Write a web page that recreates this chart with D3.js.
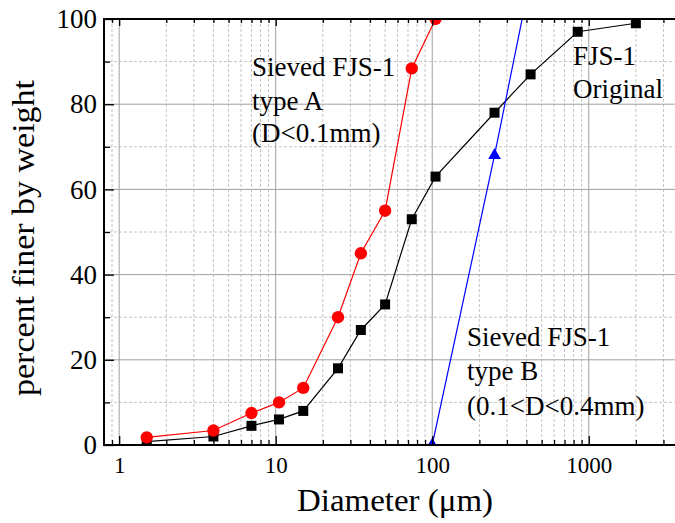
<!DOCTYPE html>
<html lang="en">
<head>
<meta charset="UTF-8">
<title>FJS-1 grain size</title>
<script src="https://cdn.jsdelivr.net/npm/d3@7"></script>
<style>
  body { margin: 0; background: #fff; }
</style>
</head>
<body>
<script>
// particle size data
const origDiam = [1.5, 4, 7, 10.5, 15, 25, 35, 50, 74, 105, 250, 425, 850, 2000];
const origPct  = [0.8, 2, 4.5, 6, 8, 18, 27, 33, 53, 63, 78, 87, 97, 99];

const typeADiam = [1.5, 4, 7, 10.5, 15, 25, 35, 50, 74, 105];
const typeAPct  = [1.8, 3.4, 7.5, 10, 13.4, 30, 45, 55, 88.4, 100];

const typeBDiam = [100, 250, 400];
const typeBPct  = [0, 68, 105];

const xMajor = [1, 10, 100, 1000];
const yMajor = [0, 20, 40, 60, 80, 100];
const yMinor = [10, 30, 50, 70, 90];

const width = 675, height = 523;
const plotL = 104, plotT = 19, plotB = 445, plotR = 683;
const serif = "'Liberation Serif', 'Times New Roman', serif";

const svg = d3.select("body").append("svg")
    .attr("width", width)
    .attr("height", height);

const x = d3.scaleLog().domain([0.8, 4000]).range([plotL, plotR]);
const y = d3.scaleLinear().domain([0, 100]).range([plotB, plotT]);

// minor x values 2..9 for each decade inside the domain
const xMinor = [];
[0.1, 1, 10, 100, 1000].forEach(dec => {
    for (let k = 2; k <= 9; k++) {
        const v = dec * k;
        if (v > 0.8 && v < 4000) xMinor.push(v);
    }
});

svg.append("clipPath").attr("id", "plot")
    .append("rect")
    .attr("x", plotL).attr("y", plotT)
    .attr("width", plotR - plotL).attr("height", plotB - plotT);

// grid
const grid = svg.append("g");
grid.selectAll(".vminor").data(xMinor).join("line")
    .attr("x1", d => x(d)).attr("x2", d => x(d))
    .attr("y1", plotT).attr("y2", plotB)
    .attr("stroke", "#c4c4c4").attr("stroke-dasharray", "3,2");
grid.selectAll(".hminor").data(yMinor).join("line")
    .attr("x1", plotL).attr("x2", plotR)
    .attr("y1", d => y(d)).attr("y2", d => y(d))
    .attr("stroke", "#c4c4c4").attr("stroke-dasharray", "3,2");
grid.selectAll(".vmajor").data(xMajor).join("line")
    .attr("x1", d => x(d)).attr("x2", d => x(d))
    .attr("y1", plotT).attr("y2", plotB)
    .attr("stroke", "#a0a0a0");
grid.selectAll(".hmajor").data(yMajor.slice(1, -1)).join("line")
    .attr("x1", plotL).attr("x2", plotR)
    .attr("y1", d => y(d)).attr("y2", d => y(d))
    .attr("stroke", "#a0a0a0");

// series
const data = svg.append("g").attr("clip-path", "url(#plot)");

function drawSeries(xs, ys, color, shape, size) {
    const pts = xs.map((d, i) => [d, ys[i]]);
    data.append("path")
        .attr("d", d3.line().x(d => x(d[0])).y(d => y(d[1]))(pts))
        .attr("fill", "none")
        .attr("stroke", color)
        .attr("stroke-width", 1.2);
    data.append("g").selectAll("path").data(pts).join("path")
        .attr("transform", d => `translate(${x(d[0])},${y(d[1])})`)
        .attr("d", d3.symbol().type(shape).size(size))
        .attr("fill", color);
}

drawSeries(origDiam, origPct, "#000000", d3.symbolSquare, 100);
drawSeries(typeADiam, typeAPct, "#ff0000", d3.symbolCircle, 120);
drawSeries(typeBDiam, typeBPct, "#0000ff", d3.symbolTriangle, 70);

// axes with inward ticks
const xAxisB = svg.append("g").attr("transform", `translate(0,${plotB})`)
    .call(d3.axisBottom(x).tickValues(xMajor).tickSize(-9).tickPadding(12)
        .tickFormat(d3.format("d")));
xAxisB.attr("font-family", serif).attr("font-size", 23);
xAxisB.selectAll("text").style("font-family", serif).style("font-size", "23px");
svg.append("g").attr("transform", `translate(0,${plotB})`)
    .call(d3.axisBottom(x).tickValues(xMinor).tickSize(-5).tickFormat(""));

svg.append("g").attr("transform", `translate(0,${plotT})`)
    .call(d3.axisTop(x).tickValues(xMajor).tickSize(-7).tickFormat(""));
svg.append("g").attr("transform", `translate(0,${plotT})`)
    .call(d3.axisTop(x).tickValues(xMinor).tickSize(-4).tickFormat(""));

const yAxis = svg.append("g").attr("transform", `translate(${plotL},0)`)
    .call(d3.axisLeft(y).tickValues(yMajor).tickSize(-10).tickPadding(7));
yAxis.attr("font-family", serif).attr("font-size", 27);
yAxis.selectAll("text").style("font-family", serif).style("font-size", "27px");
svg.append("g").attr("transform", `translate(${plotL},0)`)
    .call(d3.axisLeft(y).tickValues(yMinor).tickSize(-6).tickFormat(""));

svg.selectAll(".domain").remove();
svg.selectAll(".tick line").attr("stroke", "#000").attr("stroke-width", 1.3);

// frame
svg.append("line").attr("x1", plotL).attr("x2", plotR).attr("y1", plotB).attr("y2", plotB)
    .attr("stroke", "#000").attr("stroke-width", 2);
svg.append("line").attr("x1", plotL).attr("x2", plotR).attr("y1", plotT).attr("y2", plotT)
    .attr("stroke", "#000").attr("stroke-width", 2);
svg.append("line").attr("x1", plotL).attr("x2", plotL).attr("y1", plotT - 1).attr("y2", plotB + 1)
    .attr("stroke", "#000").attr("stroke-width", 2);

// axis titles
svg.append("text")
    .attr("x", 395).attr("y", 511)
    .attr("text-anchor", "middle")
    .style("font-family", serif)
    .attr("font-size", 31)
    .attr("textLength", 196).attr("lengthAdjust", "spacingAndGlyphs")
    .text("Diameter (\u03bcm)");

svg.append("text")
    .attr("transform", "translate(34,238) rotate(-90)")
    .attr("text-anchor", "middle")
    .style("font-family", serif)
    .attr("font-size", 32)
    .attr("textLength", 316).attr("lengthAdjust", "spacingAndGlyphs")
    .text("percent finer by weight");

// annotations
function note(lines, x0, baselines) {
    lines.forEach((t, i) => {
        svg.append("text").attr("x", x0).attr("y", baselines[i])
            .style("font-family", serif)
            .attr("font-size", 27).text(t);
    });
}
note(["Sieved FJS-1", "type A", "(D<0.1mm)"], 252, [76, 110, 142]);
note(["FJS-1", "Original"], 573, [65, 98]);
note(["Sieved FJS-1", "type B", "(0.1<D<0.4mm)"], 467, [346, 380, 415]);
</script>
</body>
</html>
